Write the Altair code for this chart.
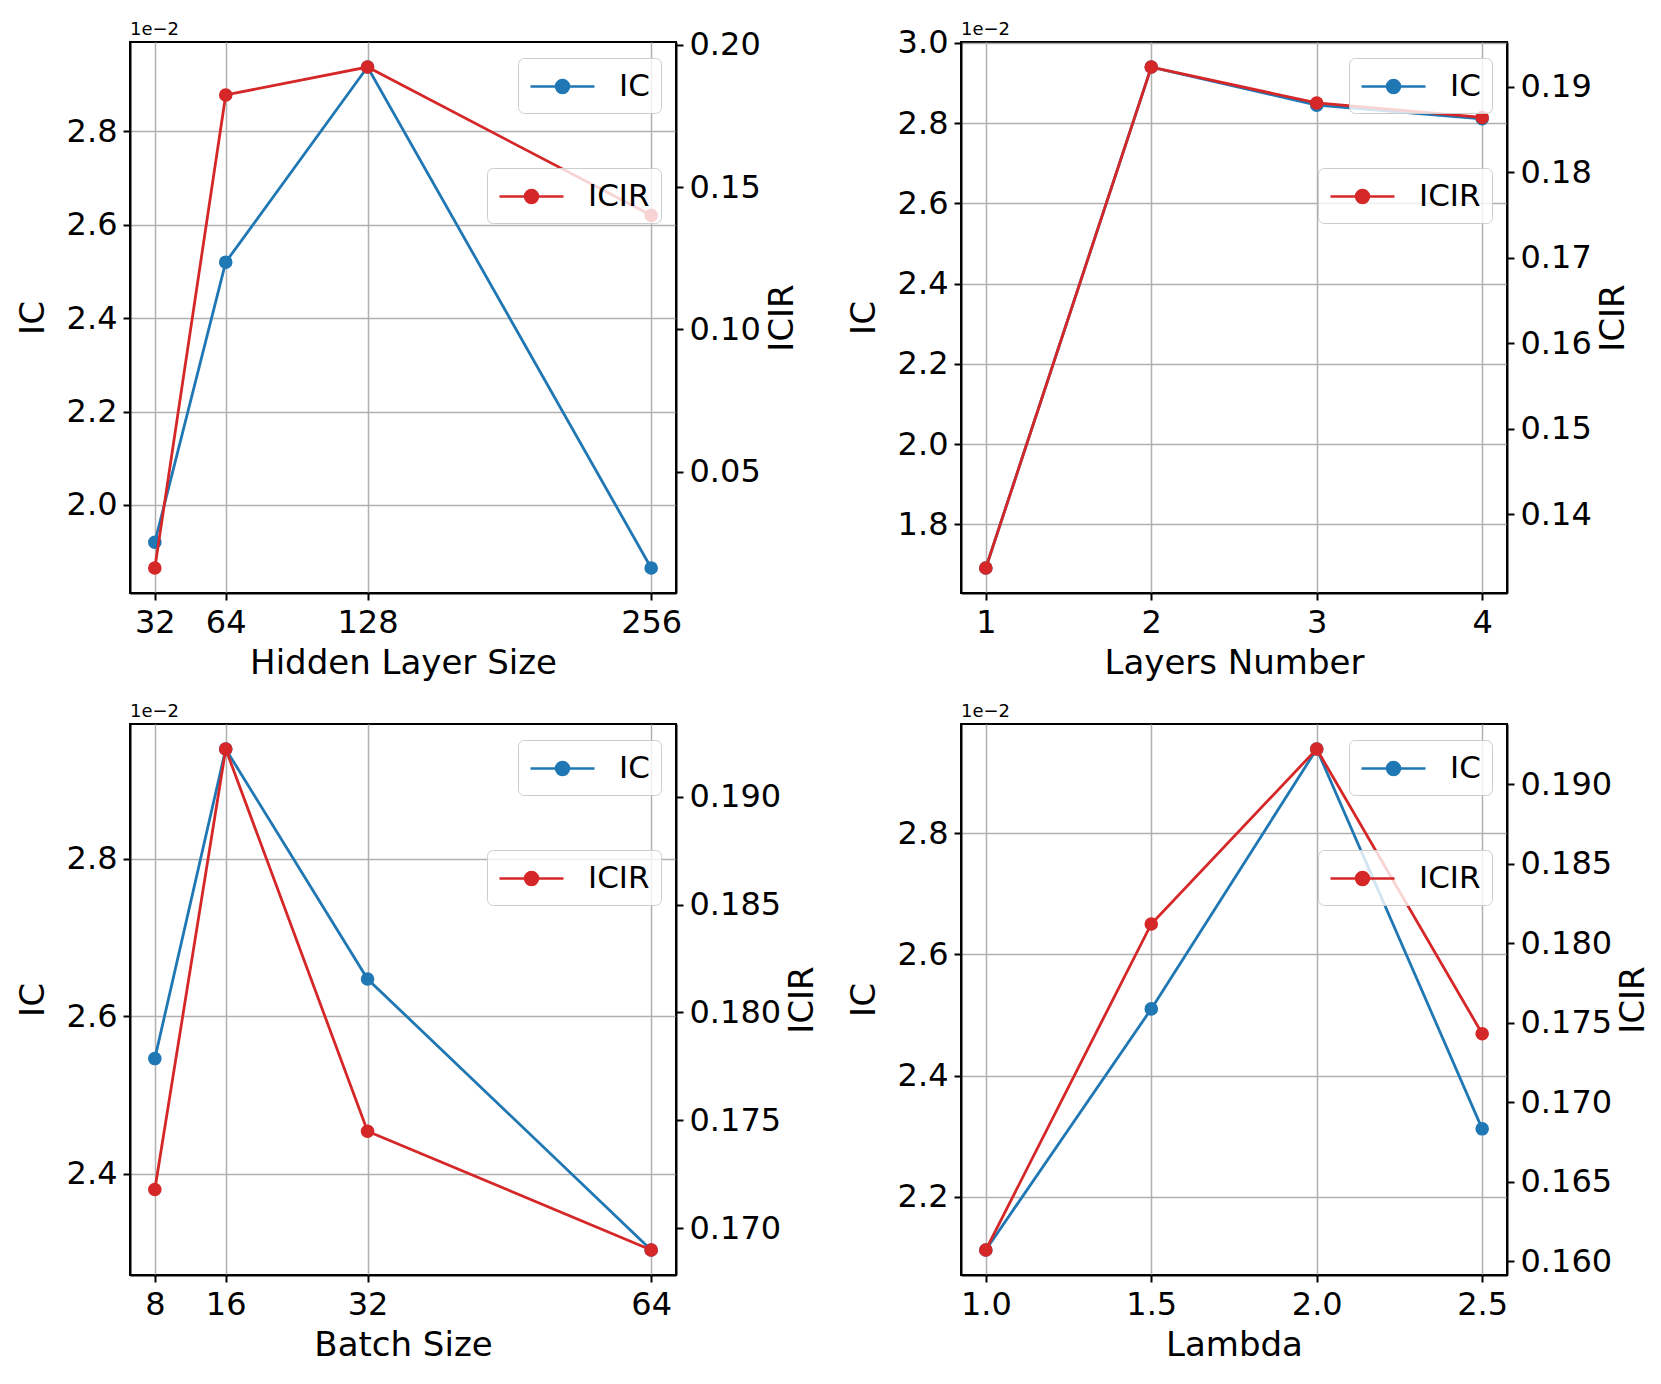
import altair as alt
import pandas as pd

# ---------------- data ----------------
hidden_sizes = [32, 64, 128, 256]
hidden_ic = [0.01920, 0.02520, 0.02938, 0.01865]
hidden_icir = [0.0162, 0.1824, 0.1922, 0.1401]

layer_nums = [1, 2, 3, 4]
layer_ic = [0.01691, 0.02940, 0.02845, 0.02811]
layer_icir = [0.1337, 0.1923, 0.1881, 0.1864]

batch_sizes = [8, 16, 32, 64]
batch_ic = [0.02546, 0.02939, 0.02647, 0.02303]
batch_icir = [0.1718, 0.1922, 0.1745, 0.1690]

lambdas = [1.0, 1.5, 2.0, 2.5]
lambda_ic = [0.02112, 0.02510, 0.02939, 0.02312]
lambda_icir = [0.1607, 0.1812, 0.1922, 0.1743]

x_titles = ["Hidden Layer Size", "Layers Number", "Batch Size", "Lambda"]
x_formats = ["d", "d", "d", ".1f"]
ic_ticks = [
    [0.020, 0.022, 0.024, 0.026, 0.028],
    [0.018, 0.020, 0.022, 0.024, 0.026, 0.028, 0.030],
    [0.024, 0.026, 0.028],
    [0.022, 0.024, 0.026, 0.028],
]
icir_ticks = [
    [0.05, 0.10, 0.15, 0.20],
    [0.14, 0.15, 0.16, 0.17, 0.18, 0.19],
    [0.170, 0.175, 0.180, 0.185, 0.190],
    [0.160, 0.165, 0.170, 0.175, 0.180, 0.185, 0.190],
]
icir_formats = [".2f", ".2f", ".3f", ".3f"]
series_names = ["IC", "ICIR"]
exponent_label = "1e\u22122"

# ---------------- style ----------------
FONT = "DejaVu Sans"
BLUE = "#1f77b4"
RED = "#d62728"
FS_LABEL = 32
FS_TITLE = 34
FS_LEGEND = 31
PANEL_W, PANEL_H = 546, 551

LEGEND_PATH = (
    "M-2,0H2"
    "M-0.4,0A0.4,0.4,0,1,1,0.4,0A0.4,0.4,0,1,1,-0.4,0Z"
    "M-0.24,0A0.24,0.24,0,1,1,0.24,0A0.24,0.24,0,1,1,-0.24,0Z"
    "M-0.08,0A0.08,0.08,0,1,1,0.08,0A0.08,0.08,0,1,1,-0.08,0Z"
)


def pad_domain(vals):
    lo, hi = min(vals), max(vals)
    r = hi - lo
    return [lo - 0.05 * r, hi + 0.05 * r]


def make_legend(color, lx, ly):
    return alt.Legend(
        title=None,
        orient="none",
        legendX=lx,
        legendY=ly,
        symbolType=LEGEND_PATH,
        symbolSize=1024,
        symbolOffset=16,
        symbolStrokeWidth=2.7,
        symbolFillColor=color,
        symbolStrokeColor=color,
        labelOffset=39,
        labelFont=FONT,
        labelFontSize=FS_LEGEND,
        labelColor="black",
        padding=11,
        fillColor="rgba(255,255,255,0.8)",
        strokeColor="#cccccc",
        cornerRadius=6,
        zindex=1,
    )


def panel(i, xs, ic, icir):
    df = pd.DataFrame({"x": xs, "IC": ic, "ICIR": icir,
                       "s_ic": series_names[0], "s_icir": series_names[1]})
    xenc = alt.X(
        "x:Q",
        scale=alt.Scale(domain=pad_domain(xs), nice=False, zero=False),
        axis=alt.Axis(values=xs, format=x_formats[i], title=x_titles[i],
                      grid=True, labelPadding=7, titlePadding=8),
    )
    base = alt.Chart(df)
    ic_layer = base.mark_line(
        strokeWidth=2.8,
        point=alt.OverlayMarkDef(filled=True, size=185, opacity=1),
    ).encode(
        x=xenc,
        y=alt.Y(
            "IC:Q",
            scale=alt.Scale(domain=pad_domain(ic), nice=False, zero=False),
            axis=alt.Axis(orient="left", title="IC", values=ic_ticks[i],
                          labelExpr="format(datum.value * 100, '.1f')",
                          grid=True, titlePadding=16),
        ),
        color=alt.Color("s_ic:N", scale=alt.Scale(domain=[series_names[0]], range=[BLUE]),
                        legend=make_legend(BLUE, 388, 16)),
    )
    icir_layer = base.mark_line(
        strokeWidth=2.8,
        point=alt.OverlayMarkDef(filled=True, size=185, opacity=1),
    ).encode(
        x=xenc,
        y=alt.Y(
            "ICIR:Q",
            scale=alt.Scale(domain=pad_domain(icir), nice=False, zero=False),
            axis=alt.Axis(orient="right", title="ICIR", values=icir_ticks[i],
                          format=icir_formats[i], grid=False, titleAngle=270,
                          titleBaseline="top", titlePadding=5),
        ),
        color=alt.Color("s_icir:N", scale=alt.Scale(domain=[series_names[1]], range=[RED]),
                        legend=make_legend(RED, 357, 126)),
    )
    expo = alt.Chart(pd.DataFrame({"t": [exponent_label]})).mark_text(
        align="left", baseline="bottom", font=FONT, fontSize=18, color="black"
    ).encode(x=alt.value(0), y=alt.value(-3), text="t:N")

    return (
        alt.layer(ic_layer, icir_layer, expo)
        .resolve_scale(y="independent", color="independent")
        .resolve_legend(color="independent")
        .properties(width=PANEL_W, height=PANEL_H)
    )


p1 = panel(0, hidden_sizes, hidden_ic, hidden_icir)
p2 = panel(1, layer_nums, layer_ic, layer_icir)
p3 = panel(2, batch_sizes, batch_ic, batch_icir)
p4 = panel(3, lambdas, lambda_ic, lambda_icir)

chart = (
    alt.concat(p1, p2, p3, p4, columns=2, spacing={"row": 131, "column": 285}, bounds="flush")
    .resolve_scale(color="independent")
    .resolve_legend(color="independent")
    .properties(padding={"left": 7, "top": 12, "right": 0, "bottom": 0}, background="white")
    .configure_axis(
        labelFont=FONT, titleFont=FONT, labelFontSize=FS_LABEL, titleFontSize=FS_TITLE,
        titleFontWeight="normal", labelColor="black", titleColor="black",
        domainColor="black", domainWidth=2, tickColor="black", tickWidth=2,
        tickSize=7, gridColor="#b0b0b0", gridWidth=1.5, labelPadding=6,
    )
    .configure_view(stroke="black", strokeWidth=2)
)

chart.save("out.html", embed_options={"renderer": "svg", "actions": False})
